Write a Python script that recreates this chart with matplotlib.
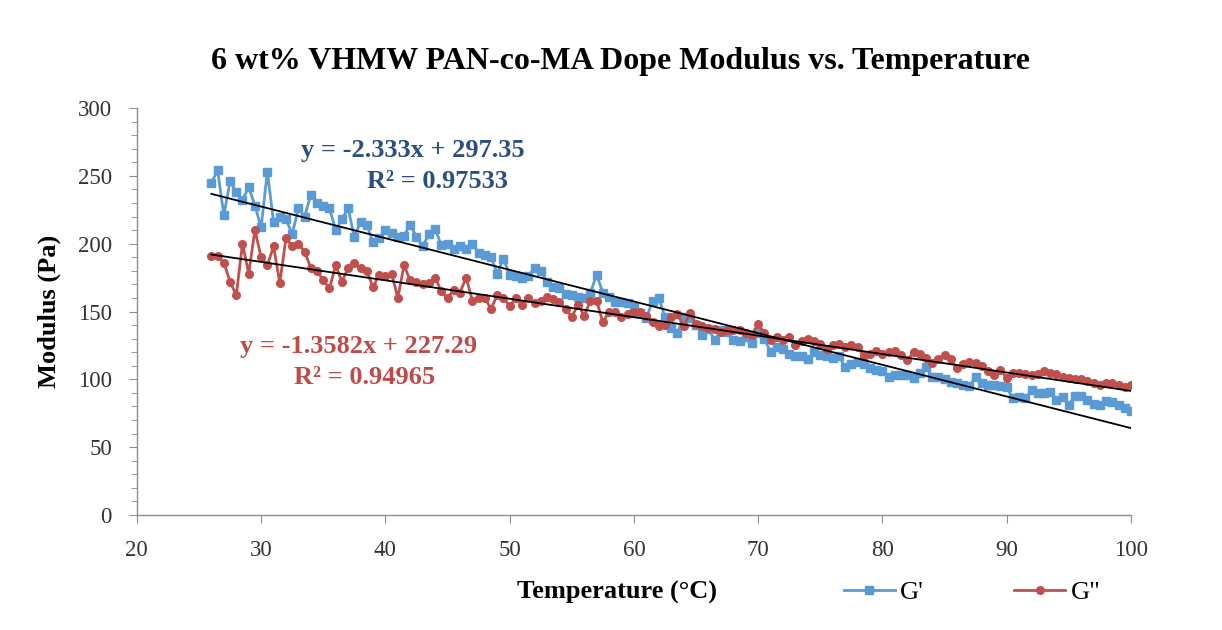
"""
Dope modulus vs temperature (G' and G'') with linear trendlines
"""

import matplotlib

matplotlib.use("Agg")

import matplotlib.pyplot as plt
import numpy as np
from matplotlib.ticker import MultipleLocator

plt.rcParams["font.family"] = ["Liberation Serif", "DejaVu Serif"]

# temperature sweep (°C)
temp_c = [
    26.0, 26.5, 27.0, 27.5, 28.0, 28.5, 29.0, 29.5, 30.0, 30.5, 31.0, 31.5, 32.0, 32.5, 33.0, 33.5,
    34.0, 34.5, 35.0, 35.5, 36.0, 36.5, 37.0, 37.5, 38.0, 38.5, 39.0, 39.5, 40.0, 40.5, 41.0, 41.5,
    42.0, 42.5, 43.0, 43.5, 44.0, 44.5, 45.0, 45.5, 46.0, 46.5, 47.0, 47.5, 48.0, 48.5, 49.0, 49.5,
    50.0, 50.5, 51.0, 51.5, 52.0, 52.5, 53.0, 53.5, 54.0, 54.5, 55.0, 55.5, 56.0, 56.5, 57.0, 57.5,
    58.0, 58.5, 59.0, 59.5, 60.0, 60.5, 61.0, 61.5, 62.0, 62.5, 63.0, 63.5, 64.0, 64.5, 65.0, 65.5,
    66.0, 66.5, 67.0, 67.5, 68.0, 68.5, 69.0, 69.5, 70.0, 70.5, 71.0, 71.5, 72.0, 72.5, 73.0, 73.5,
    74.0, 74.5, 75.0, 75.5, 76.0, 76.5, 77.0, 77.5, 78.0, 78.5, 79.0, 79.5, 80.0, 80.5, 81.0, 81.5,
    82.0, 82.5, 83.0, 83.5, 84.0, 84.5, 85.0, 85.5, 86.0, 86.5, 87.0, 87.5, 88.0, 88.5, 89.0, 89.5,
    90.0, 90.5, 91.0, 91.5, 92.0, 92.5, 93.0, 93.5, 94.0, 94.5, 95.0, 95.5, 96.0, 96.5, 97.0, 97.5,
    98.0, 98.5, 99.0, 99.5, 100.0,
]

# storage modulus G' (Pa)
g_storage = [
    245, 254, 221, 246, 238, 232, 242, 228, 212, 253, 216, 220, 218, 207, 226, 220,
    236, 230, 228, 226, 210, 218, 226, 205, 216, 214, 201, 204, 210, 208, 205, 206,
    214, 205, 198, 207, 211, 199, 200, 196, 198, 196, 200, 193, 192, 190, 178, 189,
    177, 176, 175, 176, 182, 180, 172, 168, 167, 163, 162, 161, 160, 164, 177, 164,
    161, 157, 157, 156, 153, 149, 145, 158, 160, 146, 138, 134, 146, 145, 140, 133,
    137, 129, 136, 135, 129, 128, 131, 127, 134, 130, 120, 124, 122, 119, 117, 117,
    115, 120, 118, 117, 116, 117, 109, 111, 113, 111, 108, 107, 106, 102, 103, 103,
    103, 101, 105, 109, 102, 102, 100, 98, 97, 96, 95, 102, 97, 96, 96, 95,
    94, 86, 87, 86, 92, 90, 90, 91, 85, 87, 81, 88, 88, 85, 82, 81,
    84, 83, 81, 79, 77,
]

# loss modulus G'' (Pa)
g_loss = [
    191, 191, 186, 172, 162, 200, 178, 210, 190, 184, 198, 171, 204, 198, 200, 194,
    182, 180, 173, 167, 184, 172, 182, 186, 182, 180, 168, 177, 176, 178, 160, 184,
    173, 172, 170, 171, 175, 165, 160, 166, 164, 175, 158, 160, 160, 152, 162, 160,
    154, 160, 155, 160, 156, 158, 161, 159, 157, 152, 146, 155, 147, 158, 158, 142,
    150, 150, 146, 148, 150, 150, 147, 142, 139, 140, 146, 148, 139, 149, 141, 139,
    138, 137, 135, 136, 136, 136, 134, 133, 141, 134, 129, 131, 129, 131, 125, 128,
    130, 128, 126, 122, 125, 126, 124, 125, 124, 117, 119, 121, 119, 120, 121, 118,
    114, 120, 119, 116, 112, 115, 118, 115, 108, 111, 113, 112, 110, 106, 103, 107,
    101, 105, 105, 104, 103, 104, 106, 105, 104, 102, 101, 100, 100, 99, 97, 96,
    97, 97, 96, 94, 96,
]

# Excel trendline coefficients shown on the chart
fit_storage = (-2.333, 297.35, 0.97533)
fit_loss = (-1.3582, 227.29, 0.94965)

BLUE = "#5b9bd5"
RED = "#c0504d"
BLUE_TXT = "#2b4f81"
RED_TXT = "#be4b48"
AXIS_GRAY = "#8c8c8c"

fig = plt.figure(figsize=(12.22, 6.30), dpi=100)
ax = fig.add_axes([0.112, 0.1825, 0.8135, 0.6461])

T = np.array(temp_c)
ax.plot(T, g_storage, color=BLUE, linewidth=2, marker="s", markersize=5.5, label="G'")
ax.plot(T, g_loss, color=RED, linewidth=2, marker="o", markersize=5.5, label='G"')

# linear trendlines over the data range
t_fit = np.array([T.min(), T.max()])
for slope, icpt, _ in (fit_storage, fit_loss):
    ax.plot(t_fit, slope * t_fit + icpt, color="black", linewidth=1.3, zorder=5)

ax.set_xlim(20, 100)
ax.set_ylim(0, 300)
ax.xaxis.set_major_locator(MultipleLocator(10))
ax.yaxis.set_major_locator(MultipleLocator(50))
ax.yaxis.set_minor_locator(MultipleLocator(10))

for side in ("top", "right"):
    ax.spines[side].set_visible(False)
for side in ("left", "bottom"):
    ax.spines[side].set_color(AXIS_GRAY)
    ax.spines[side].set_linewidth(1)

ax.tick_params(axis="both", which="major", direction="out", length=6, color=AXIS_GRAY,
               labelsize=16.5, labelcolor="#333333", pad=12)
ax.tick_params(axis="y", which="minor", direction="out", length=4, color=AXIS_GRAY)

ax.set_ylabel("Modulus (Pa)", fontsize=19, fontweight="bold")
ax.yaxis.set_label_coords(-0.0765, 0.5)
fig.text(617 / 1222, 1 - 592 / 630, "Temperature (°C)", fontsize=19, fontweight="bold",
         ha="center", va="center")
fig.text(621 / 1222, 1 - 61 / 630, "6 wt% VHMW PAN-co-MA Dope Modulus vs. Temperature",
         fontsize=23, fontweight="bold", ha="center", va="center")

# trendline equations
fig.text(413 / 1222, 1 - 150 / 630,
         f"y = {fit_storage[0]:.3f}x + {fit_storage[1]:.2f}", color=BLUE_TXT,
         fontsize=19, fontweight="bold", ha="center", va="center")
fig.text(437 / 1222, 1 - 182 / 630, f"R² = {fit_storage[2]:.5f}", color=BLUE_TXT,
         fontsize=19, fontweight="bold", ha="center", va="center")
fig.text(359 / 1222, 1 - 346 / 630,
         f"y = {fit_loss[0]:.4f}x + {fit_loss[1]:.2f}", color=RED_TXT,
         fontsize=19, fontweight="bold", ha="center", va="center")
fig.text(365 / 1222, 1 - 378 / 630, f"R² = {fit_loss[2]:.5f}", color=RED_TXT,
         fontsize=19, fontweight="bold", ha="center", va="center")

ax.legend(loc="center", bbox_to_anchor=(972 / 1222, 1 - 592 / 630),
          bbox_transform=fig.transFigure, ncol=2, frameon=False, fontsize=19,
          handlelength=1.95, handletextpad=0.2, columnspacing=3.4)

fig.savefig("out.png", dpi=100, facecolor="white")
plt.close(fig)
